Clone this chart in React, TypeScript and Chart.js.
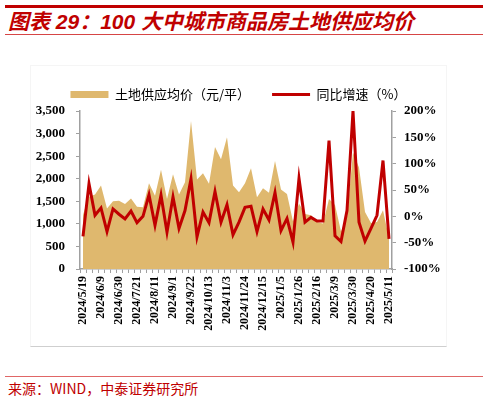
import { useEffect, useRef } from 'react';
import { Chart, registerables } from 'chart.js';

Chart.register(...registerables);

// weekly dates (categories)
const dates = [
  '2024/5/19', '2024/5/26', '2024/6/2', '2024/6/9', '2024/6/16', '2024/6/23', '2024/6/30',
  '2024/7/7', '2024/7/14', '2024/7/21', '2024/7/28', '2024/8/4', '2024/8/11', '2024/8/18',
  '2024/8/25', '2024/9/1', '2024/9/8', '2024/9/15', '2024/9/22', '2024/9/29', '2024/10/6',
  '2024/10/13', '2024/10/20', '2024/10/27', '2024/11/3', '2024/11/10', '2024/11/17', '2024/11/24',
  '2024/12/1', '2024/12/8', '2024/12/15', '2024/12/22', '2024/12/29', '2025/1/5', '2025/1/12',
  '2025/1/19', '2025/1/26', '2025/2/2', '2025/2/9', '2025/2/16', '2025/2/23', '2025/3/2',
  '2025/3/9', '2025/3/16', '2025/3/23', '2025/3/30', '2025/4/6', '2025/4/13', '2025/4/20',
  '2025/4/27', '2025/5/4', '2025/5/11',
];

// 土地供应均价（元/平）
const landPrice = [
  1200, 1600, 1650, 1850, 1340, 1500, 1510, 1440, 1560, 1380, 1370, 1900, 1620,
  2200, 1550, 2100, 1650, 1920, 3280, 1980, 2120, 1890, 2700, 2430, 2920, 1850,
  1700, 1900, 2230, 1590, 1790, 1690, 2390, 1760, 1660, 1050, 1450, 1220, 1190,
  1040, 1010, 1550, 1420, 830, 1150, 2580, 2250, 1260, 1020, 1040, 1300, 680,
];

// 同比增速（%）
const yoy = [
  -38, 62, 2, 16, -29, 14, 4, -5, 10, -12, 0, 41, -17,
  40, -30, 37, -23, 11, 71, -39, 8, -12, 47, -11, 22, -35,
  -11, 17, 19, -29, 14, -7, 45, -27, -4, -49, 72, -11, -2,
  -9, -9, 144, -37, -48, 11, 200, -11, -47, -23, 2, 106, -43,
];

const RED = '#C00000';
const GOLD = '#DFB86E';
const AXIS = '#a0a0a0';

const tickFont = { family: '"Liberation Serif", "Times New Roman", serif', size: 13, weight: 'bold' as const };

export default function App() {
  const canvasRef = useRef<HTMLCanvasElement | null>(null);
  const chartRef = useRef<Chart | null>(null);

  useEffect(() => {
    const ctx = canvasRef.current?.getContext('2d');
    if (!ctx) return;
    chartRef.current?.destroy();

    chartRef.current = new Chart(ctx, {
      type: 'line',
      data: {
        labels: dates,
        datasets: [
          {
            label: '土地供应均价（元/平）',
            data: landPrice,
            yAxisID: 'y',
            fill: 'origin',
            backgroundColor: GOLD,
            borderColor: GOLD,
            borderWidth: 0,
            pointRadius: 0,
            tension: 0,
            order: 1,
          },
          {
            label: '同比增速（%）',
            data: yoy,
            yAxisID: 'y1',
            fill: false,
            borderColor: RED,
            backgroundColor: RED,
            borderWidth: 3,
            pointRadius: 0,
            tension: 0,
            order: 0,
          },
        ],
      },
      options: {
        responsive: true,
        maintainAspectRatio: false,
        animation: false,
        layout: { padding: 0 },
        plugins: {
          legend: {
            position: 'top',
            labels: {
              usePointStyle: true,
              pointStyleWidth: 38,
              boxHeight: 7,
              padding: 22,
              color: '#000',
              font: { family: '"Noto Sans CJK SC", sans-serif', size: 13 },
              sort: (a, b) => (a.datasetIndex ?? 0) - (b.datasetIndex ?? 0),
              generateLabels: (chart) => {
                const items = Chart.defaults.plugins.legend.labels.generateLabels(chart);
                return items.map((it) => ({
                  ...it,
                  pointStyle: it.datasetIndex === 0 ? 'rect' : 'line',
                  lineWidth: it.datasetIndex === 0 ? 0 : 3,
                }));
              },
            },
          },
          tooltip: { enabled: false },
        },
        scales: {
          x: {
            offset: true,
            grid: { display: true, drawOnChartArea: false, drawTicks: true, tickLength: 4, color: AXIS, offset: true },
            border: { display: true, color: AXIS, width: 1.5 },
            ticks: {
              autoSkip: false,
              maxRotation: 90,
              minRotation: 90,
              padding: 3,
              color: '#000',
              font: { ...tickFont, size: 12 },
              callback: (_v, i) => (i % 3 === 0 ? dates[i] : ''),
            },
            afterFit: (s) => {
              s.height = 77;
            },
          },
          y: {
            position: 'left',
            min: 0,
            max: 3500,
            grid: { display: true, drawOnChartArea: false, drawTicks: true, tickLength: 4, color: AXIS },
            border: { display: true, color: AXIS, width: 1.5 },
            ticks: {
              stepSize: 500,
              padding: 11,
              color: '#000',
              font: tickFont,
              callback: (v) => Number(v).toLocaleString('en-US'),
            },
            afterFit: (s) => {
              s.width = 49;
            },
          },
          y1: {
            position: 'right',
            min: -100,
            max: 200,
            grid: { display: true, drawOnChartArea: false, drawTicks: true, tickLength: 4, color: AXIS },
            border: { display: true, color: AXIS, width: 1.5 },
            ticks: {
              stepSize: 50,
              padding: 8,
              color: '#000',
              font: tickFont,
              callback: (v) => v + '%',
            },
            afterFit: (s) => {
              s.width = 54;
            },
          },
        },
      },
    });

    return () => {
      chartRef.current?.destroy();
      chartRef.current = null;
    };
  }, []);

  return (
    <div style={{ position: 'absolute', left: 0, top: 0, width: 488, height: 400, background: '#fff', overflow: 'hidden' }}>
      <div style={{ position: 'absolute', left: 5, top: 5, width: 478, height: 3, background: RED }} />
      <div
        style={{
          position: 'absolute',
          left: 8,
          top: 8,
          height: 28,
          lineHeight: '28px',
          color: RED,
          fontFamily: '"Liberation Sans", "Noto Sans CJK SC", sans-serif',
          fontWeight: 'bold',
          fontStyle: 'italic',
          fontSize: 21,
          whiteSpace: 'nowrap',
        }}
      >
        图表 29：100 大中城市商品房土地供应均价
      </div>
      <div style={{ position: 'absolute', left: 5, top: 34, width: 478, height: 1, background: '#D64545' }} />
      <div
        style={{
          position: 'absolute',
          left: 30,
          top: 65,
          width: 417,
          height: 282,
          borderTop: '1px solid #f5f5f5',
          borderLeft: '1px solid #f5f5f5',
          borderRight: '1px solid #f5f5f5',
          borderBottom: '1px solid #cfcfcf',
          boxSizing: 'border-box',
        }}
      >
        <canvas ref={canvasRef} />
      </div>
      <div style={{ position: 'absolute', left: 5, top: 376, width: 478, height: 1, background: '#E06666' }} />
      <div
        style={{
          position: 'absolute',
          left: 8,
          top: 379,
          lineHeight: '18px',
          color: RED,
          fontFamily: '"Noto Sans CJK SC", sans-serif',
          fontSize: 14,
          whiteSpace: 'nowrap',
        }}
      >
        来源：WIND，中泰证券研究所
      </div>
    </div>
  );
}
